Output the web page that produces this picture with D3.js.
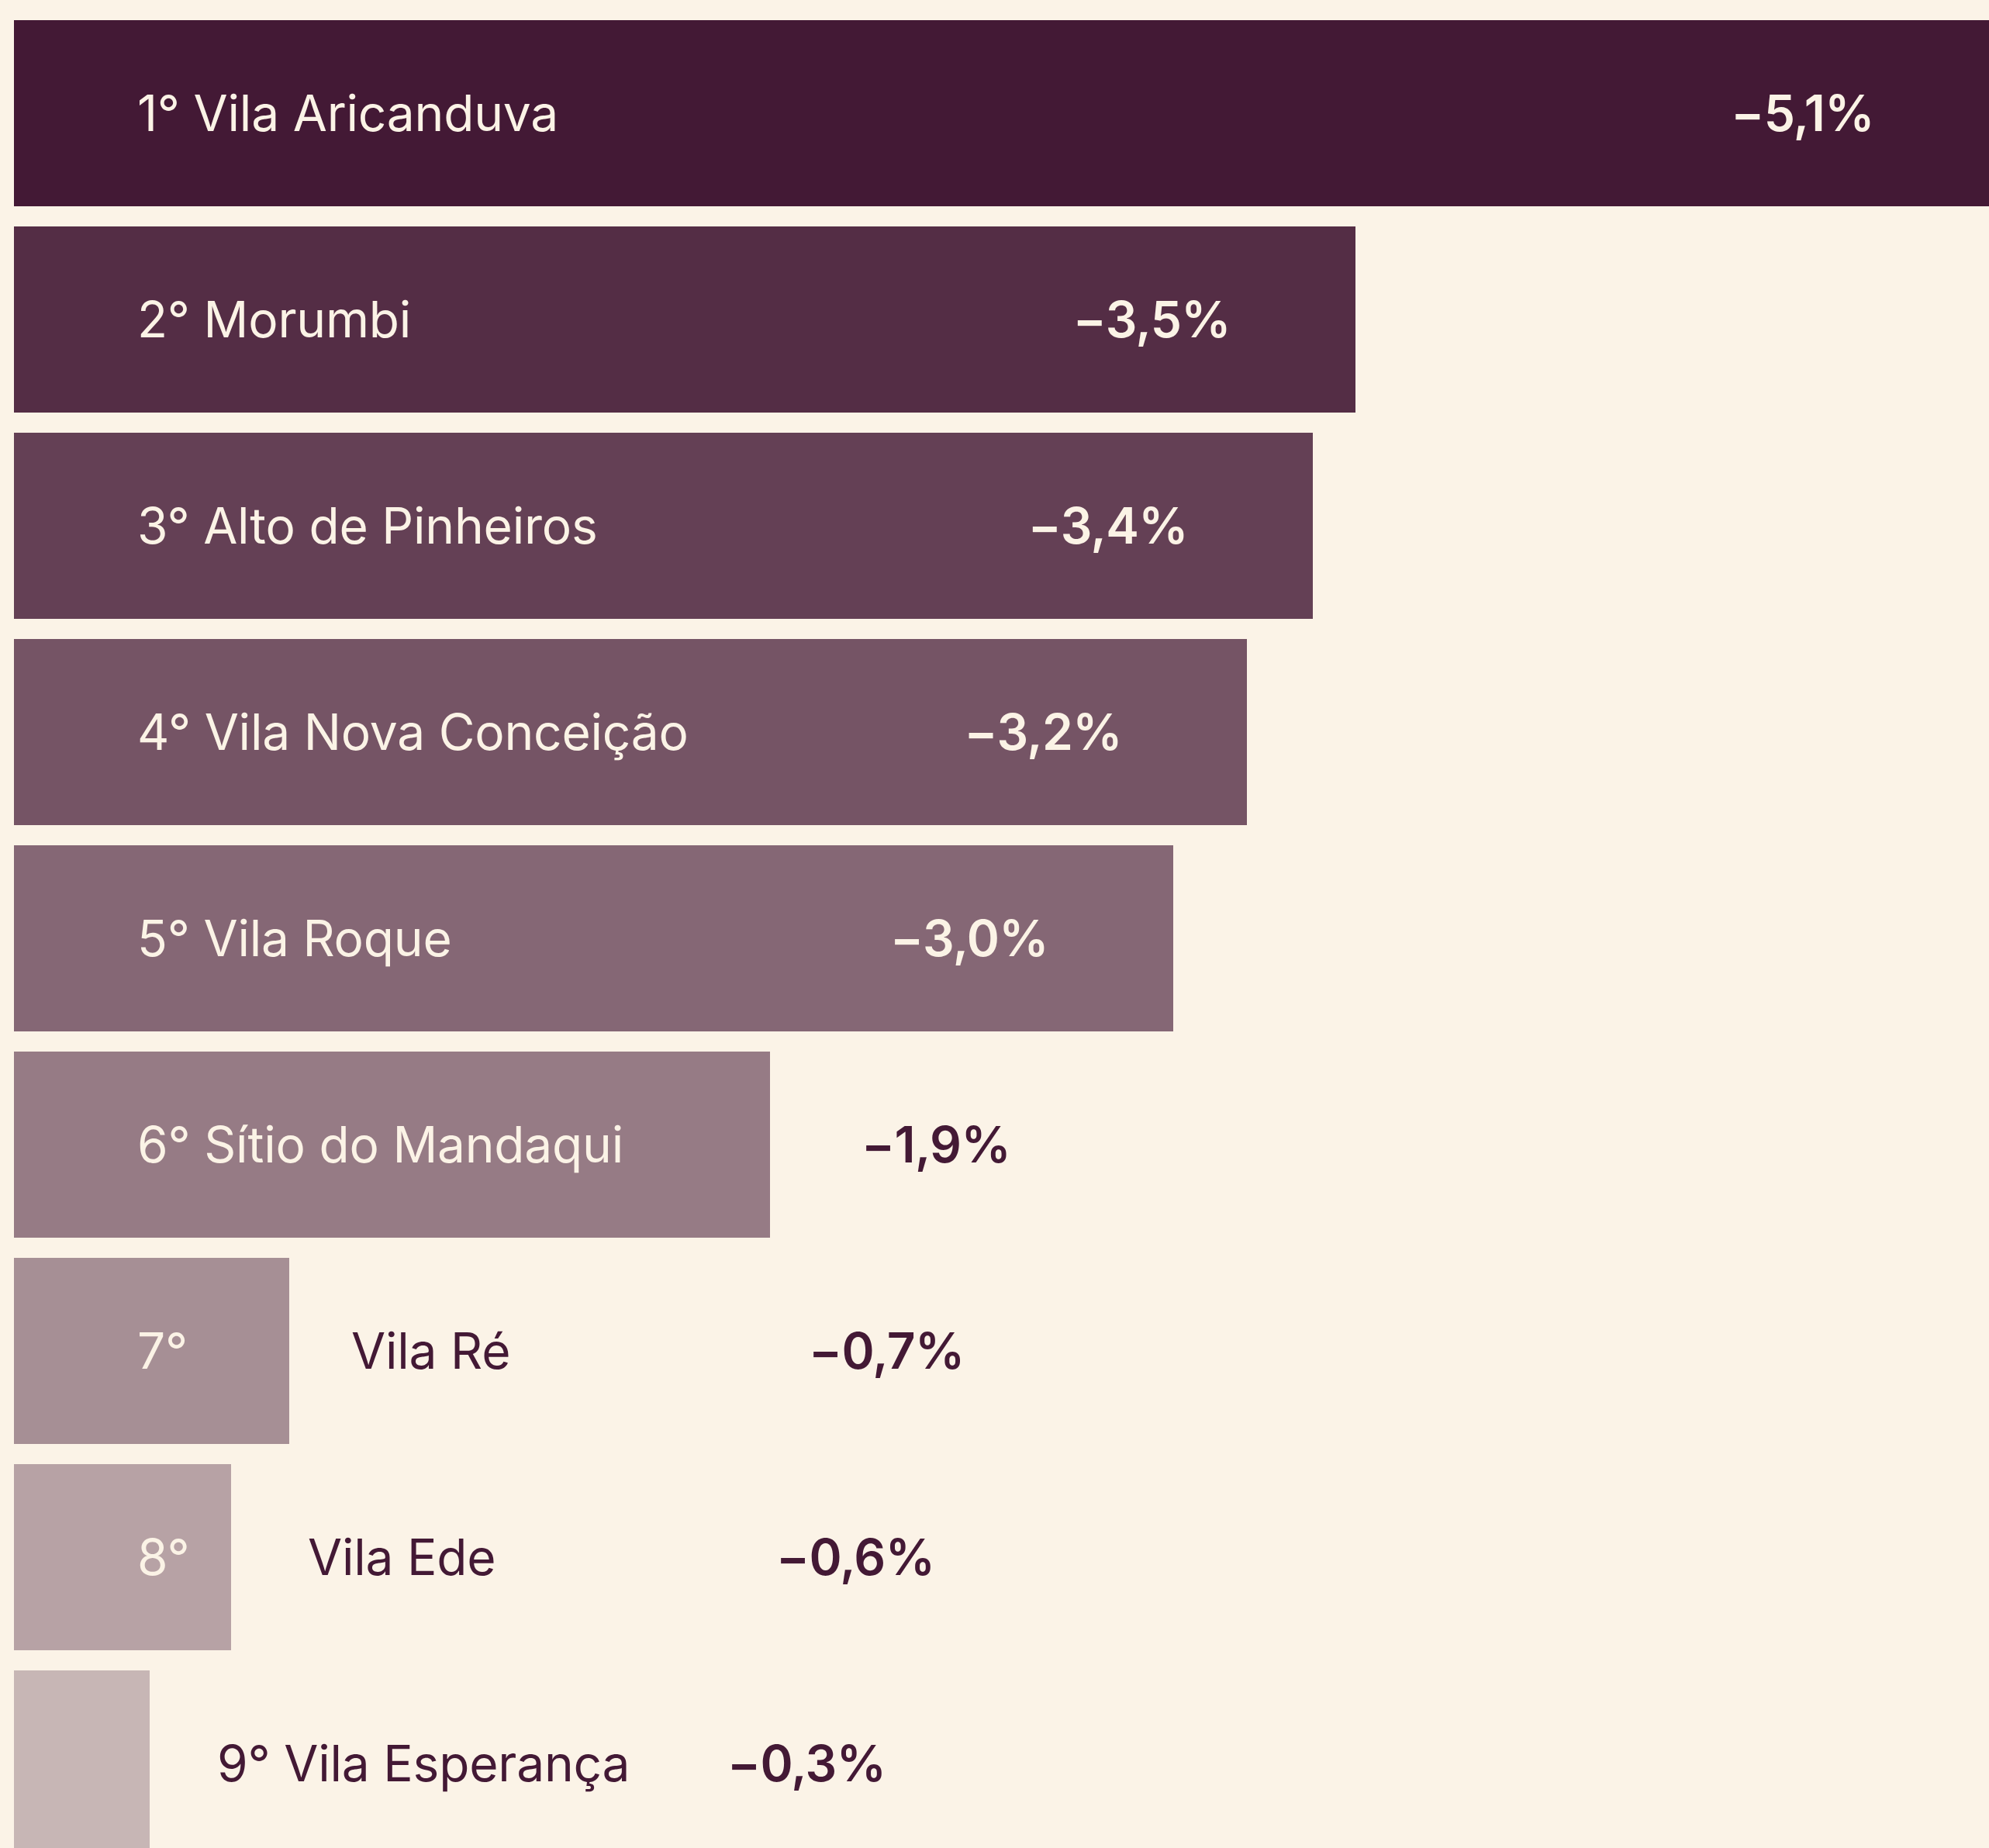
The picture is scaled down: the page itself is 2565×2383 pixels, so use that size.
<!DOCTYPE html>
<html>
<head>
<meta charset="utf-8">
<script src="https://cdn.jsdelivr.net/npm/d3@7"></script>
<style>
  html, body { margin: 0; padding: 0; background: #fbf3e7; }
  svg { display: block; }
</style>
</head>
<body>
<script>
// ---- data ----
const ranks = ["1°", "2°", "3°", "4°", "5°", "6°", "7°", "8°", "9°"];
const districts = ["Vila Aricanduva", "Morumbi", "Alto de Pinheiros", "Vila Nova Conceição",
  "Vila Roque", "Sítio do Mandaqui", "Vila Ré", "Vila Ede", "Vila Esperança"];
// price change (%), magnitude
const values = [-5.12, -3.46, -3.35, -3.18, -2.99, -1.95, -0.71, -0.56, -0.35];
const valueLabels = ["−5,1%", "−3,5%", "−3,4%", "−3,2%", "−3,0%", "−1,9%", "−0,7%", "−0,6%", "−0,3%"];

// ---- layout / style ----
const W = 2565, H = 2383;
const BG = "#fbf3e7", DARK = "#431935", LIGHT = "#fbf3e6";
const FONT = "Inter, 'Open Sans', sans-serif";

const svg = d3.select("body").append("svg").attr("width", W).attr("height", H)
  .style("background", BG);

const x = d3.scaleLinear().domain([0, 5.12]).range([18, 18 + 2560]);
const n = ranks.length;
const y = d3.scaleBand().domain(d3.range(n))
  .range([26, 26 + 266 * n - 26]).paddingInner(26 / 266).paddingOuter(0);

const color = i => d3.interpolateRgb(BG, DARK)(1 - 0.09 * i);

// label placement per row
// "in": rank+name inside bar, value inside right-aligned
// "valOut": rank+name inside, value outside
// "split": rank inside, name + value outside
// "out": everything outside
const rowMode = ["in", "in", "in", "in", "in", "valOut", "split", "split", "out"];
const nameOffset = [0, 0, 0, 0, 0, 0, 80, 99, 87];
const valueOffset = [161, 161, 161, 161, 161, 118, 670, 703, 745];

const rows = svg.selectAll("g.row").data(d3.range(n)).join("g").attr("class", "row");

rows.append("rect")
  .attr("x", x(0))
  .attr("y", i => y(i))
  .attr("width", i => x(Math.abs(values[i])) - x(0))
  .attr("height", y.bandwidth())
  .attr("fill", i => color(i));

const base = i => y(i) + y.bandwidth() / 2 + 23;
const textX = 177;

rows.each(function(i) {
  const g = d3.select(this);
  const end = x(Math.abs(values[i]));
  const mode = rowMode[i];
  const nameAttrs = t => t.attr("font-family", FONT).attr("font-size", 64)
    .attr("font-weight", 400).attr("letter-spacing", -0.2).attr("y", base(i));
  if (mode === "in" || mode === "valOut") {
    g.append("text").call(nameAttrs).attr("x", textX).attr("fill", LIGHT)
      .text(ranks[i] + " " + districts[i]);
  } else if (mode === "split") {
    g.append("text").call(nameAttrs).attr("x", textX).attr("fill", LIGHT).text(ranks[i]);
    g.append("text").call(nameAttrs).attr("x", end + nameOffset[i]).attr("fill", DARK)
      .text(districts[i]);
  } else {
    g.append("text").call(nameAttrs).attr("x", end + nameOffset[i]).attr("fill", DARK)
      .text(ranks[i] + " " + districts[i]);
  }
  const v = g.append("text").attr("font-family", FONT).attr("font-size", 64)
    .attr("font-weight", 600).attr("letter-spacing", -0.6).attr("y", base(i))
    .text(valueLabels[i]);
  if (mode === "in") {
    v.attr("x", end - valueOffset[i]).attr("text-anchor", "end").attr("fill", LIGHT);
  } else {
    v.attr("x", end + valueOffset[i]).attr("text-anchor", "start").attr("fill", DARK);
  }
});
</script>
</body>
</html>
